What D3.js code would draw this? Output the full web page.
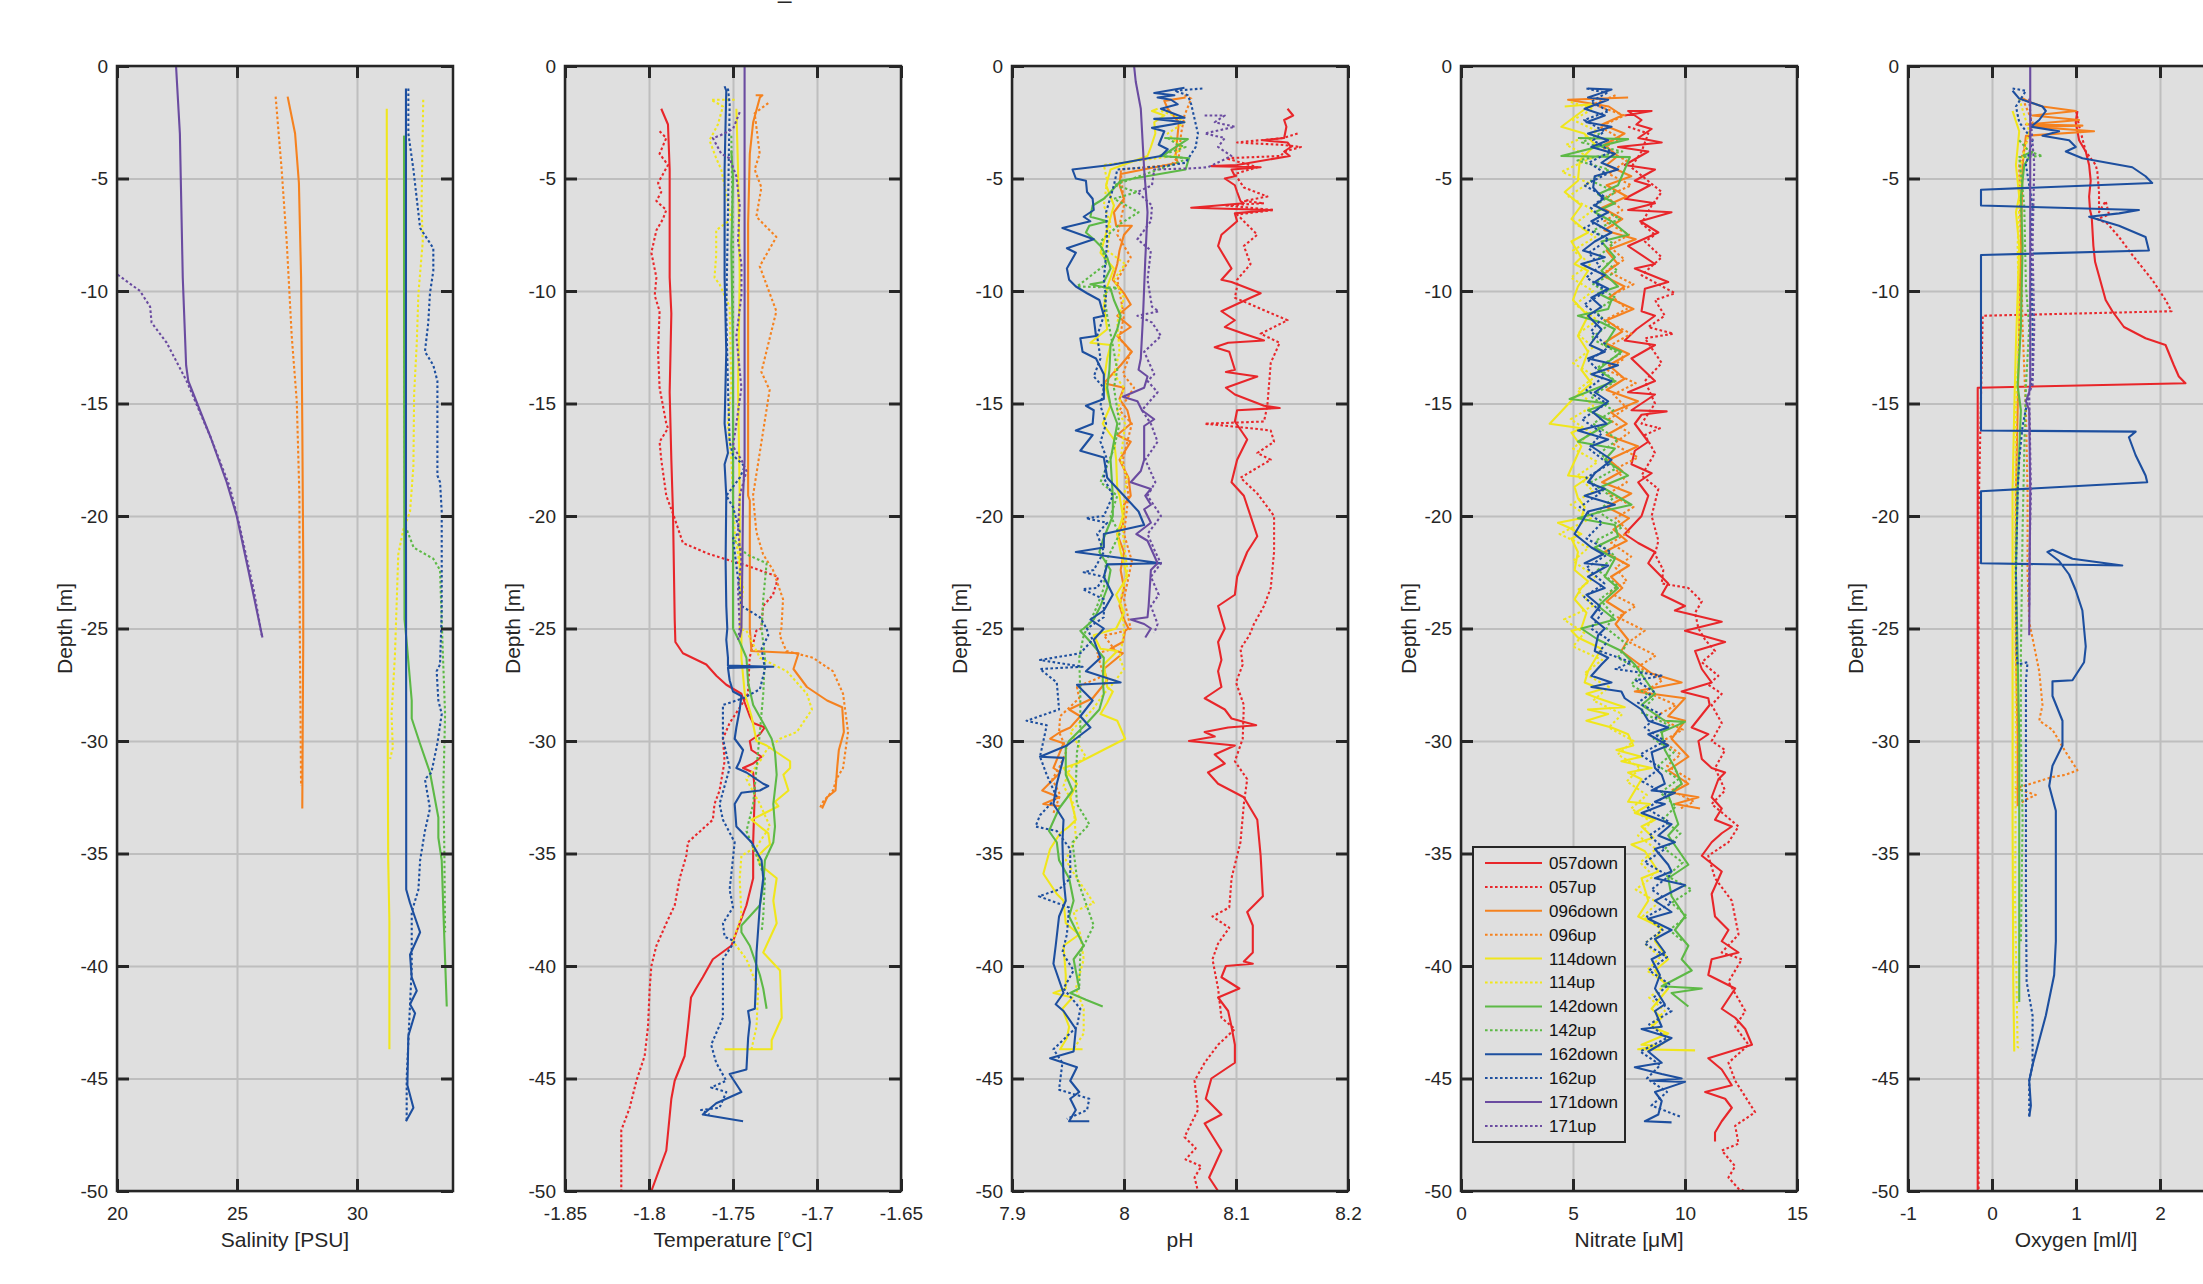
<!DOCTYPE html>
<html><head><meta charset="utf-8">
<script src="https://cdn.jsdelivr.net/npm/d3@7"></script>
<style>
body{margin:0;background:#fff;}
svg{display:block;font-family:"Liberation Sans",Arial,Helvetica,sans-serif;}
</style>
</head><body>
<svg id="chart" width="2203" height="1284"></svg>
<script>
// ---------------- series ----------------
const seriesNames = ["057down","057up","096down","096up","114down","114up","142down","142up","162down","162up","171down","171up"];
const seriesColors = ["#E8262A","#E8262A","#F5821F","#F5821F","#F0E61C","#F0E61C","#5DB946","#5DB946","#1D4F9F","#1D4F9F","#6A4BA0","#6A4BA0"];
const seriesDotted = [false,true,false,true,false,true,false,true,false,true,false,true];

// ---------------- axis ticks ----------------
const depthTicks = [0,-5,-10,-15,-20,-25,-30,-35,-40,-45,-50];
const salTicks = [20,25,30];
const tmpTicks = [-1.85,-1.8,-1.75,-1.7,-1.65];
const phTicks = [7.9,8,8.1,8.2];
const no3Ticks = [0,5,10,15];
const oxTicks = [-1,0,1,2,3];
const axisLabels = ["Salinity [PSU]","Temperature [°C]","pH","Nitrate [\u03bcM]","Oxygen [ml/l]"];

// ---------------- data: [depth m, value] ----------------
// Salinity
const sal096d = [[-1.36,27.11],[-3,27.42],[-5.2,27.58],[-9.4,27.67],[-15.9,27.72],[-22,27.76],[-25.6,27.76],[-29,27.74],[-33,27.72]];
const sal096u = [[-1.36,26.61],[-4.6,26.86],[-7.8,27.07],[-12,27.28],[-14.9,27.49],[-19.1,27.6],[-25.6,27.62],[-32,27.67]];
const sal114d = [[-1.9,31.24],[-10,31.25],[-20,31.27],[-30,31.28],[-35.3,31.3],[-38,31.35],[-43.7,31.35]];
const sal114u = [[-1.5,32.76],[-6.2,32.69],[-7.8,32.74],[-10.1,32.56],[-12.3,32.49],[-14.6,32.38],[-17.8,32.35],[-19.8,32.21],[-20.6,31.93],[-21.7,31.72],[-26.2,31.58],[-28.8,31.44],[-30.3,31.49],[-30.8,31.38]];
const sal142d = [[-3.1,31.96],[-10,31.96],[-20,31.97],[-24.6,31.98],[-25.6,32.07],[-28.2,32.28],[-29,32.28],[-30.1,32.62],[-31.4,33.04],[-33.4,33.39],[-34.3,33.39],[-35.3,33.53],[-37.6,33.6],[-41.8,33.74]];
const sal142u = [[-3.1,31.96],[-12,31.97],[-20.4,32.0],[-21.4,32.36],[-21.9,33.18],[-22.4,33.46],[-24.7,33.53],[-28.8,33.67],[-32,33.6],[-35,33.64],[-38.5,33.67]];
const sal162d = [[-1,32.04],[-10,32.04],[-20,32.04],[-30,32.05],[-36.6,32.05],[-37.2,32.21],[-38.5,32.63],[-39.5,32.21],[-40.5,32.28],[-41.1,32.49],[-41.7,32.21],[-42.1,32.42],[-43.1,32.14],[-45.3,32.1],[-46.3,32.35],[-46.9,32.04]];
const sal162u = [[-1,32.14],[-3,32.14],[-4.6,32.35],[-7.2,32.63],[-8.1,33.18],[-9.1,33.18],[-10.1,33.04],[-11.4,32.97],[-12.7,32.83],[-13.3,33.18],[-14,33.35],[-18.2,33.35],[-18.5,33.46],[-19.8,33.53],[-24.3,33.53],[-26.6,33.46],[-26.9,33.32],[-28.2,33.39],[-28.8,33.53],[-30.1,33.35],[-31.4,33.1],[-31.7,32.83],[-33,33.04],[-34,32.83],[-35.3,32.63],[-36.6,32.56],[-37.6,32.28],[-40.1,32.28],[-41.7,32.21],[-45,32.07],[-46.9,32.07]];
const sal171d = [[0,22.46],[-3,22.62],[-9.4,22.74],[-13.3,22.88],[-14,22.97],[-16.5,23.9],[-18.5,24.57],[-20,24.99],[-22.4,25.47],[-25.4,26.06]];
const sal171u = [[-9.1,19.9],[-9.3,20.06],[-10,20.96],[-10.7,21.38],[-11.4,21.44],[-12.3,22.07],[-14,22.9],[-16.5,23.9],[-18.7,24.7],[-20.4,25.1],[-23.3,25.7],[-25.3,26.03]];

// Temperature
const tmp057d = [[-1.9,-1.7927],[-2.6,-1.7887],[-4.6,-1.7877],[-9.4,-1.7877],[-11,-1.7867],[-14.5,-1.7877],[-17.5,-1.7867],[-19.9,-1.7857],[-24.6,-1.7847],[-25.6,-1.7843],[-26.1,-1.7798],[-26.6,-1.7659],[-27.1,-1.7599],[-27.5,-1.754],[-27.9,-1.745],[-28.9,-1.74],[-29.2,-1.738],[-29.4,-1.7311],[-29.7,-1.734],[-30,-1.74],[-30.4,-1.739],[-30.7,-1.733],[-31,-1.738],[-31.2,-1.744],[-31.4,-1.738],[-32.2,-1.737],[-34.5,-1.738],[-36.1,-1.738],[-37.3,-1.742],[-38.1,-1.746],[-39.1,-1.751],[-39.7,-1.762],[-40.5,-1.768],[-41,-1.772],[-41.4,-1.775],[-42.7,-1.7768],[-44,-1.7788],[-45.1,-1.7847],[-45.9,-1.7867],[-48.2,-1.7897],[-50,-1.7986]];
const tmp057u = [[-2.9,-1.7937],[-3.2,-1.7897],[-3.9,-1.7937],[-4.4,-1.7887],[-5.2,-1.7946],[-5.6,-1.7927],[-6,-1.7956],[-6.4,-1.7897],[-6.8,-1.7917],[-7.3,-1.7956],[-8.3,-1.7986],[-9.4,-1.7956],[-10.2,-1.7966],[-10.9,-1.7937],[-12.7,-1.7946],[-14.3,-1.7937],[-15.9,-1.7897],[-16.1,-1.7887],[-16.7,-1.7937],[-17.5,-1.7927],[-19.1,-1.7897],[-19.9,-1.7857],[-21.2,-1.7798],[-21.7,-1.7639],[-22.2,-1.742],[-22.7,-1.7232],[-23,-1.7242],[-23.5,-1.7262],[-24,-1.7321],[-25,-1.7331],[-25.1,-1.7361],[-26.3,-1.7401],[-27.9,-1.7411],[-28.4,-1.745],[-29.2,-1.752],[-29.9,-1.756],[-30.9,-1.755],[-32.2,-1.758],[-32.8,-1.761],[-33.5,-1.762],[-34.5,-1.7768],[-35.1,-1.7778],[-36.1,-1.7817],[-37.3,-1.7847],[-38.1,-1.7897],[-39.1,-1.7956],[-40,-1.7986],[-41,-1.7996],[-42.7,-1.8006],[-44,-1.8026],[-45.1,-1.8075],[-46.3,-1.8115],[-47.3,-1.8165],[-50,-1.8165]];
const tmp096d = [[-1.3,-1.7365],[-1.3,-1.7325],[-1.4,-1.734],[-2.5,-1.738],[-3.9,-1.74],[-7,-1.741],[-19.1,-1.741],[-19.3,-1.74],[-25,-1.74],[-26,-1.739],[-26.1,-1.711],[-26.8,-1.714],[-27.6,-1.706],[-28.2,-1.694],[-28.5,-1.685],[-29.6,-1.684],[-30.4,-1.687],[-31.2,-1.688],[-32.2,-1.689],[-32.5,-1.694],[-33,-1.697]];
const tmp096u = [[-1.65,-1.729],[-2.1,-1.7371],[-3.9,-1.7341],[-4.6,-1.7371],[-5.4,-1.7331],[-6.7,-1.7361],[-7.6,-1.7242],[-8.9,-1.7341],[-10.9,-1.7242],[-13.6,-1.7331],[-14.4,-1.7282],[-17.2,-1.7341],[-19.1,-1.7381],[-20.7,-1.7361],[-21.7,-1.7321],[-22.4,-1.7262],[-23.7,-1.7202],[-25,-1.7212],[-25.3,-1.7222],[-26,-1.7183],[-26.3,-1.7024],[-26.9,-1.6905],[-27.9,-1.6845],[-29.6,-1.6815],[-31.2,-1.6845],[-31.7,-1.6885],[-32.2,-1.6905],[-32.7,-1.6964],[-33,-1.6984]];
const tmp114d = [[-1.9,-1.748],[-4.6,-1.747],[-9.4,-1.746],[-14.3,-1.747],[-19.1,-1.746],[-22.4,-1.746],[-25,-1.745],[-26.3,-1.745],[-27.9,-1.743],[-28.9,-1.739],[-30,-1.736],[-30.2,-1.73],[-30.9,-1.716],[-31.2,-1.716],[-31.5,-1.72],[-32.2,-1.717],[-32.7,-1.725],[-32.9,-1.723],[-33.5,-1.739],[-34.1,-1.729],[-34.6,-1.728],[-34.8,-1.731],[-35.1,-1.735],[-35.5,-1.734],[-36.1,-1.724],[-37.1,-1.726],[-38.1,-1.724],[-39.4,-1.732],[-40.2,-1.722],[-42.3,-1.721],[-43.3,-1.727],[-43.7,-1.727],[-43.7,-1.755]];
const tmp114u = [[-1.5,-1.749],[-1.5,-1.763],[-1.8,-1.756],[-2.6,-1.759],[-3.3,-1.764],[-4.1,-1.76],[-4.6,-1.757],[-6.8,-1.751],[-7.3,-1.76],[-8.4,-1.76],[-9.4,-1.761],[-9.7,-1.758],[-10.7,-1.752],[-14.3,-1.751],[-15.9,-1.753],[-17.5,-1.751],[-20.7,-1.749],[-23.2,-1.744],[-25,-1.746],[-25.1,-1.742],[-26.3,-1.734],[-26.9,-1.718],[-27.9,-1.706],[-28.6,-1.703],[-29.6,-1.712],[-29.9,-1.722],[-30.4,-1.73],[-30.9,-1.734],[-31.7,-1.742],[-32.8,-1.734],[-33.8,-1.728],[-34.7,-1.736],[-35.1,-1.745],[-36.1,-1.746],[-37.8,-1.745],[-38.9,-1.75],[-39.7,-1.742],[-41,-1.735],[-42.7,-1.736],[-43.7,-1.739]];
const tmp142d = [[-3.75,-1.751],[-5,-1.75],[-8,-1.751],[-13,-1.75],[-19.1,-1.75],[-25,-1.75],[-25.6,-1.746],[-26.3,-1.742],[-27.4,-1.741],[-28.4,-1.738],[-29.2,-1.732],[-29.9,-1.727],[-30.5,-1.725],[-31.5,-1.724],[-32.8,-1.726],[-33.8,-1.725],[-34.5,-1.726],[-35.3,-1.731],[-36.4,-1.732],[-37.3,-1.734],[-38.2,-1.745],[-38.5,-1.745],[-39.1,-1.74],[-40.4,-1.734],[-41,-1.732],[-41.9,-1.73]];
const tmp142u = [[-3.1,-1.751],[-8,-1.75],[-14,-1.75],[-21,-1.75],[-21.7,-1.742],[-22.1,-1.73],[-23.7,-1.732],[-25,-1.733],[-26.3,-1.731],[-27.9,-1.732],[-29.6,-1.734],[-31.2,-1.736],[-32.8,-1.738],[-34,-1.742],[-35.1,-1.736],[-36.1,-1.731],[-37.8,-1.732],[-38.5,-1.733]];
const tmp162d = [[-0.9,-1.755],[-1.1,-1.754],[-4.6,-1.755],[-9.4,-1.755],[-12.7,-1.754],[-15.9,-1.755],[-17.2,-1.753],[-17.7,-1.755],[-19.1,-1.754],[-22,-1.7544],[-24,-1.754],[-25,-1.7534],[-25.5,-1.754],[-26.3,-1.753],[-26.65,-1.753],[-26.7,-1.726],[-26.75,-1.753],[-27.3,-1.752],[-27.8,-1.75],[-28,-1.745],[-28.6,-1.746],[-29.4,-1.748],[-29.9,-1.749],[-30.4,-1.744],[-30.9,-1.746],[-31.2,-1.748],[-31.4,-1.742],[-31.9,-1.732],[-32,-1.729],[-32.2,-1.734],[-32.3,-1.745],[-32.8,-1.749],[-33.8,-1.748],[-34.5,-1.739],[-35.3,-1.733],[-36.1,-1.732],[-37.3,-1.734],[-39.4,-1.736],[-41,-1.7365],[-41.9,-1.737],[-42,-1.741],[-42.5,-1.74],[-43.2,-1.741],[-44.6,-1.742],[-44.8,-1.752],[-45.6,-1.745],[-46.1,-1.76],[-46.6,-1.768],[-46.9,-1.744]];
const tmp162u = [[-1,-1.753],[-1.7,-1.752],[-6.5,-1.753],[-11,-1.754],[-14.3,-1.753],[-16.7,-1.752],[-17.3,-1.75],[-17.8,-1.743],[-18.3,-1.746],[-19.1,-1.754],[-19.6,-1.75],[-20.7,-1.746],[-21,-1.75],[-24,-1.745],[-24.5,-1.734],[-25,-1.73],[-25.3,-1.729],[-25.9,-1.733],[-26.8,-1.731],[-27.7,-1.734],[-28.1,-1.744],[-28.4,-1.756],[-29.9,-1.756],[-31.2,-1.752],[-32.8,-1.758],[-33.5,-1.756],[-34.5,-1.749],[-36.6,-1.752],[-37.4,-1.75],[-38.1,-1.756],[-38.7,-1.755],[-38.9,-1.749],[-39.7,-1.756],[-42.3,-1.756],[-43.5,-1.763],[-44.3,-1.76],[-45.1,-1.754],[-45.4,-1.763],[-45.6,-1.754],[-46.3,-1.758],[-46.4,-1.769],[-46.6,-1.764]];
const tmp171d = [[0,-1.7431],[-17.5,-1.7431],[-19.1,-1.744],[-22,-1.7444],[-25,-1.745],[-25.4,-1.746]];
const tmp171u = [[-2.05,-1.746],[-2.8,-1.75],[-3.1,-1.758],[-3.2,-1.762],[-3.9,-1.757],[-4.1,-1.752],[-4.9,-1.748],[-6.2,-1.746],[-7.8,-1.747],[-8.8,-1.745],[-10.2,-1.745],[-12,-1.748],[-14.3,-1.745],[-15.9,-1.748],[-16.9,-1.75],[-17.5,-1.745],[-18,-1.742],[-19.1,-1.746],[-20.7,-1.747],[-22,-1.745],[-23.2,-1.747],[-25,-1.746],[-25.5,-1.747]];

// pH
const ph057d = [[-1.9,8.146],[-2.2,8.151],[-2.4,8.143],[-2.7,8.145],[-3.2,8.143],[-3.3,8.124],[-3.4,8.146],[-3.6,8.149],[-3.8,8.143],[-4,8.148],[-4.4,8.101],[-4.45,8.078],[-4.5,8.122],[-4.6,8.096],[-4.9,8.099],[-5,8.09],[-5.3,8.099],[-5.6,8.101],[-6,8.104],[-6.1,8.107],[-6.3,8.06],[-6.4,8.131],[-6.55,8.099],[-6.9,8.101],[-7.5,8.087],[-8,8.084],[-9,8.096],[-9.5,8.087],[-9.6,8.096],[-10.1,8.122],[-10.3,8.113],[-10.9,8.087],[-11.3,8.099],[-11.6,8.09],[-11.9,8.107],[-12.2,8.125],[-12.3,8.093],[-12.5,8.081],[-12.7,8.094],[-13.5,8.099],[-13.6,8.091],[-13.8,8.119],[-14.3,8.091],[-14.6,8.099],[-15.1,8.125],[-15.2,8.139],[-15.3,8.101],[-15.8,8.099],[-16.6,8.11],[-17.5,8.101],[-18.5,8.096],[-19.1,8.107],[-20.9,8.119],[-21.6,8.11],[-22.7,8.101],[-23.5,8.099],[-24,8.084],[-25,8.09],[-25.6,8.084],[-26.4,8.087],[-26.9,8.084],[-27.6,8.087],[-28.1,8.072],[-28.6,8.09],[-29,8.096],[-29.3,8.118],[-29.4,8.093],[-29.6,8.072],[-29.8,8.081],[-30,8.058],[-30.2,8.099],[-30.6,8.081],[-31,8.09],[-31.4,8.075],[-31.9,8.084],[-32.5,8.107],[-33.5,8.119],[-35.1,8.122],[-36.9,8.124],[-37.6,8.11],[-38.2,8.115],[-39.4,8.115],[-39.8,8.107],[-39.9,8.115],[-40,8.091],[-40.5,8.087],[-41,8.103],[-41.4,8.084],[-42,8.093],[-42.7,8.096],[-43.5,8.099],[-44.3,8.099],[-45,8.078],[-45.9,8.073],[-46.6,8.087],[-47,8.072],[-48.2,8.087],[-49.4,8.076],[-50,8.084]];
const ph057u = [[-3,8.155],[-3.2,8.142],[-3.4,8.101],[-3.5,8.14],[-3.6,8.158],[-3.8,8.143],[-4,8.14],[-4.1,8.091],[-4.5,8.119],[-4.8,8.099],[-5.4,8.107],[-5.8,8.128],[-6,8.107],[-6.1,8.125],[-6.2,8.09],[-6.4,8.134],[-6.6,8.101],[-7.5,8.119],[-8,8.107],[-8.8,8.113],[-9.5,8.101],[-9.8,8.101],[-10.3,8.099],[-11.3,8.146],[-11.9,8.122],[-12.3,8.139],[-13.2,8.131],[-15.1,8.128],[-15.8,8.125],[-15.9,8.072],[-16.1,8.113],[-16.2,8.131],[-16.7,8.134],[-17.2,8.119],[-17.5,8.131],[-18.3,8.104],[-19,8.119],[-20,8.134],[-21.6,8.134],[-23.2,8.131],[-24,8.125],[-24.8,8.116],[-25.3,8.112],[-25.9,8.104],[-26.6,8.106],[-27.4,8.1],[-28.4,8.107],[-29.9,8.106],[-30.9,8.099],[-31.7,8.11],[-32.8,8.107],[-34.5,8.104],[-36.1,8.096],[-37.4,8.094],[-37.8,8.079],[-38.3,8.094],[-39,8.084],[-39.7,8.079],[-41,8.084],[-42.3,8.087],[-42.8,8.099],[-43.5,8.084],[-44.3,8.072],[-45.1,8.063],[-46.4,8.066],[-47.6,8.054],[-48.1,8.064],[-48.6,8.055],[-48.9,8.069],[-49.4,8.063],[-50,8.066]];
const ph096d = [[-1.4,8.055],[-1.55,8.036],[-1.9,8.039],[-2.5,8.049],[-3,8.048],[-4,8.046],[-4.3,8.048],[-4.8,7.997],[-5.3,7.996],[-5.9,8.0],[-6.5,7.991],[-7.1,7.993],[-7.1,8.007],[-7.5,8.0],[-8.2,7.996],[-8.8,7.994],[-9.5,7.99],[-10.1,8.0],[-10.6,8.006],[-11.1,7.994],[-11.6,8.006],[-12,7.994],[-12.7,8.007],[-13.3,7.997],[-14.1,7.982],[-14.3,8.0],[-14.8,7.996],[-15.3,8.003],[-15.9,8.006],[-16.4,7.994],[-16.7,8.006],[-17.5,7.996],[-18.3,8.004],[-19.1,8.006],[-19.5,8.0],[-20.4,7.999],[-20.8,7.994],[-21.6,8.0],[-22.4,7.997],[-23.2,8.0],[-24,7.996],[-24.6,8.0],[-25,8.004],[-25.1,8.001],[-25.6,7.999],[-25.9,7.988],[-26.1,7.999],[-26.8,7.982],[-27.3,7.985],[-28.1,7.972],[-28.6,7.951],[-28.9,7.961],[-29.4,7.952],[-29.6,7.943],[-29.9,7.934],[-30.1,7.946],[-31.2,7.937],[-31.4,7.943],[-32.2,7.927],[-32.5,7.942],[-32.8,7.928],[-32.9,7.943]];
const ph096u = [[-1.3,8.054],[-1.45,8.06],[-2.2,8.054],[-3,8.051],[-4,8.049],[-4.4,8.042],[-4.6,7.997],[-6.2,8.0],[-7.5,7.994],[-8.5,8.006],[-9.5,7.994],[-11.1,8.0],[-12.1,7.996],[-12.7,8.006],[-13.7,7.999],[-14.3,8.009],[-15.3,7.996],[-15.9,8.007],[-17.5,7.999],[-19.1,8.004],[-20.8,8.0],[-22,8.007],[-23.7,8.0],[-25,8.006],[-25.2,7.994],[-25.3,7.982],[-25.9,7.991],[-26.1,7.976],[-27.1,7.982],[-27.6,7.958],[-28.1,7.96],[-28.9,7.943],[-29.6,7.942],[-30.4,7.949],[-31.2,7.942],[-31.7,7.936],[-32.4,7.943],[-33.2,7.937]];
const ph114d = [[-1.9,8.03],[-2,8.025],[-2.2,8.036],[-2.5,8.027],[-3,8.028],[-3.6,8.024],[-4,8.021],[-4.6,7.988],[-5.3,7.984],[-6.2,7.991],[-6.9,7.987],[-7.8,7.982],[-8.3,7.979],[-9,7.991],[-9.8,7.985],[-10.7,7.982],[-11.7,7.985],[-12.3,7.97],[-12.4,7.988],[-13,7.985],[-14,7.982],[-15.1,7.988],[-15.9,7.981],[-16.6,7.991],[-17.5,7.993],[-18.8,7.994],[-19.1,7.996],[-20,7.999],[-20.8,7.994],[-21.6,7.997],[-22.7,8.003],[-23.5,7.993],[-24.3,8.0],[-25,7.993],[-25.3,7.973],[-25.9,7.979],[-26,7.994],[-26.6,7.982],[-27.6,7.985],[-27.8,7.99],[-28.3,7.985],[-28.8,7.979],[-29.1,7.994],[-29.9,8.001],[-31,7.958],[-31.2,7.946],[-31.9,7.958],[-32.5,7.952],[-33.5,7.957],[-33.8,7.951],[-34.1,7.943],[-34.8,7.934],[-35.9,7.928],[-36.8,7.94],[-37.1,7.946],[-38.1,7.948],[-38.6,7.96],[-39.1,7.946],[-40.4,7.948],[-41,7.948],[-41.2,7.937],[-41.4,7.954],[-41.9,7.945],[-42.7,7.951],[-43.2,7.949],[-43.7,7.943],[-43.7,7.963]];
const ph114u = [[-2,8.033],[-2.2,8.045],[-2.5,8.054],[-3,8.039],[-3.6,8.051],[-4,8.045],[-4.4,7.982],[-5.1,7.985],[-6.2,7.982],[-7,7.988],[-8.2,7.985],[-8.8,8.001],[-9.5,7.991],[-10.3,8.0],[-11.4,7.994],[-12.7,7.996],[-13.7,7.991],[-14.3,8.0],[-15.3,7.994],[-15.9,8.001],[-17.5,7.997],[-18.3,8.003],[-19.1,8.0],[-20.8,7.999],[-22.4,8.003],[-23.7,7.997],[-25,8.0],[-25.5,7.999],[-26.3,7.996],[-26.8,8.0],[-27.4,7.991],[-27.9,7.982],[-28.6,7.972],[-29.6,7.952],[-30.7,7.966],[-31.2,7.952],[-32,7.946],[-32.8,7.955],[-34.3,7.957],[-35.3,7.948],[-36.1,7.958],[-37.2,7.973],[-37.6,7.955],[-38.6,7.961],[-39.7,7.964],[-41,7.957],[-41.9,7.964],[-43,7.964],[-43.7,7.955]];
const ph142d = [[-3.2,8.036],[-3.25,8.057],[-4,8.034],[-4.1,8.058],[-4.6,8.055],[-5.1,7.997],[-5.6,7.988],[-5.9,7.982],[-6.2,7.972],[-6.7,7.97],[-6.9,7.985],[-7.1,7.969],[-7.4,7.966],[-7.7,7.973],[-8,7.979],[-8.5,7.985],[-9,7.988],[-9.6,7.982],[-9.7,7.97],[-9.9,7.988],[-10.4,7.991],[-11.1,7.997],[-11.7,7.994],[-12.4,7.988],[-13.5,7.987],[-14.3,7.985],[-15.1,7.988],[-15.9,7.994],[-16.7,7.991],[-17.5,7.988],[-19.1,7.99],[-20,7.99],[-20.6,7.985],[-21.1,7.981],[-21.6,7.978],[-22.4,7.988],[-23.2,7.985],[-24,7.979],[-24.6,7.973],[-25,7.964],[-25.1,7.961],[-25.6,7.97],[-26.3,7.982],[-27.3,7.981],[-27.9,7.982],[-28.6,7.978],[-29.2,7.967],[-30,7.951],[-30.3,7.948],[-31.5,7.948],[-32.2,7.954],[-33,7.942],[-34,7.933],[-34.5,7.94],[-35.3,7.942],[-36.1,7.951],[-37.1,7.955],[-37.8,7.951],[-39.1,7.964],[-39.7,7.955],[-41,7.96],[-41.2,7.952],[-41.5,7.966],[-41.8,7.981]];
const ph142u = [[-3.2,8.039],[-3.5,8.048],[-3.6,8.055],[-4,8.031],[-4.1,8.058],[-4.4,8.042],[-5.3,7.991],[-5.6,8.012],[-5.9,7.991],[-6.5,8.013],[-7,7.997],[-7.8,7.979],[-8.8,7.984],[-9.8,7.958],[-9.85,7.994],[-10.1,7.982],[-11.1,7.985],[-11.9,7.988],[-12.7,7.991],[-13.5,7.994],[-14.3,7.991],[-15.9,7.996],[-17,7.991],[-18.5,7.979],[-19.1,7.994],[-20,7.988],[-20.8,7.996],[-22,7.984],[-23.2,7.982],[-24,7.976],[-25,7.967],[-25.3,7.964],[-26.3,7.96],[-27.9,7.961],[-29.6,7.961],[-30.5,7.958],[-32,7.957],[-32.8,7.958],[-33.7,7.969],[-34.5,7.954],[-36.1,7.958],[-38.2,7.973],[-39.4,7.961],[-41,7.96]];
const ph162d = [[-0.97,8.054],[-1.2,8.027],[-1.3,8.045],[-1.4,8.03],[-1.5,8.042],[-1.7,8.048],[-1.9,8.033],[-2.3,8.054],[-2.35,8.027],[-2.5,8.054],[-2.75,8.025],[-2.9,8.036],[-3.5,8.031],[-3.7,8.039],[-4,8.033],[-4.4,7.988],[-4.6,7.954],[-5,7.957],[-5.1,7.966],[-5.6,7.967],[-5.9,7.972],[-6.4,7.973],[-6.7,7.964],[-6.9,7.97],[-7.2,7.945],[-7.7,7.973],[-8.1,7.949],[-8.3,7.957],[-9,7.949],[-9.5,7.951],[-9.8,7.957],[-10.1,7.967],[-10.4,7.978],[-11.1,7.982],[-11.2,7.973],[-12,7.975],[-12.1,7.961],[-12.7,7.963],[-13,7.975],[-13.7,7.982],[-14.8,7.982],[-15.1,7.966],[-15.3,7.973],[-15.9,7.972],[-16.2,7.957],[-16.4,7.972],[-17.1,7.961],[-17.4,7.982],[-18.3,7.985],[-19.1,8.0],[-19.8,8.013],[-20.4,8.018],[-20.8,7.982],[-21.4,7.982],[-21.6,7.957],[-22.1,8.033],[-22.15,7.985],[-22.7,7.982],[-23.5,7.99],[-24.2,7.982],[-24.6,7.97],[-25,7.982],[-25.5,7.973],[-26.3,7.979],[-26.9,7.966],[-27.4,7.997],[-27.5,7.958],[-28.2,7.972],[-28.9,7.961],[-29.4,7.97],[-30.2,7.949],[-30.7,7.925],[-30.75,7.946],[-31.9,7.94],[-32.8,7.937],[-33.5,7.946],[-34.5,7.945],[-36.1,7.946],[-37.1,7.948],[-37.8,7.942],[-39.1,7.939],[-39.9,7.937],[-41.2,7.946],[-41.7,7.939],[-42,7.946],[-42.8,7.957],[-43.8,7.955],[-44.1,7.934],[-44.5,7.958],[-45.1,7.952],[-45.6,7.96],[-45.9,7.952],[-46.4,7.957],[-46.9,7.951],[-46.9,7.969]];
const ph162u = [[-1,8.07],[-1.1,8.045],[-1.3,8.057],[-1.7,8.06],[-3,8.066],[-3.6,8.064],[-4.3,8.055],[-4.45,8.036],[-4.6,7.994],[-5.3,7.991],[-6.5,7.984],[-7.8,7.985],[-9.5,7.982],[-10.3,7.984],[-11.1,7.982],[-12,7.976],[-13,7.979],[-13.8,7.973],[-14.3,7.982],[-15.1,7.979],[-15.9,7.984],[-16.7,7.979],[-17.5,7.985],[-18.3,7.982],[-19.1,7.99],[-20,7.982],[-20.1,7.966],[-20.3,7.985],[-20.8,7.976],[-21.6,7.982],[-22.4,7.973],[-22.5,7.964],[-22.7,7.982],[-23.2,7.976],[-23.25,7.963],[-23.7,7.982],[-24.5,7.982],[-25,7.967],[-25.5,7.972],[-26.1,7.961],[-26.4,7.925],[-26.7,7.963],[-26.8,7.925],[-27.4,7.94],[-28.6,7.942],[-29.1,7.913],[-29.3,7.931],[-30.7,7.925],[-31.5,7.931],[-32.5,7.94],[-33.3,7.925],[-33.8,7.921],[-34,7.94],[-34.8,7.952],[-36.1,7.952],[-36.6,7.942],[-36.9,7.924],[-37.4,7.951],[-38.6,7.949],[-39.4,7.945],[-40.2,7.955],[-41,7.946],[-41.9,7.961],[-42.7,7.958],[-43.7,7.937],[-44.3,7.945],[-45.5,7.942],[-45.9,7.969],[-46.4,7.967],[-46.8,7.949]];
const ph171d = [[0,8.009],[-0.7,8.0105],[-1.9,8.015],[-4.6,8.018],[-6.5,8.021],[-8.6,8.019],[-11.1,8.017],[-13,8.015],[-13.5,8.013],[-13.8,8.021],[-14.3,8.018],[-14.7,7.999],[-14.9,8.012],[-15.3,8.016],[-15.7,8.027],[-16,8.018],[-17.5,8.018],[-18,8.015],[-18.5,8.006],[-18.8,8.024],[-19.1,8.019],[-19.5,8.024],[-19.7,8.018],[-20.3,8.024],[-20.8,8.011],[-21.1,8.021],[-22.1,8.03],[-22.4,8.024],[-24,8.022],[-24.5,8.021],[-24.6,8.006],[-24.8,8.018],[-25,8.024],[-25.4,8.019]];
const ph171u = [[-2.2,8.072],[-2.2,8.09],[-2.5,8.081],[-2.7,8.099],[-3,8.072],[-3.2,8.09],[-3.6,8.084],[-4,8.096],[-4.5,8.075],[-4.55,8.06],[-4.6,8.027],[-5.3,8.025],[-5.6,8.012],[-6.2,8.025],[-6.9,8.024],[-7.7,8.012],[-8.2,8.024],[-9.5,8.021],[-10.7,8.025],[-10.9,8.031],[-11.1,8.012],[-11.4,8.025],[-12,8.033],[-12.7,8.018],[-13.7,8.027],[-14,8.021],[-14.5,8.03],[-15.3,8.016],[-15.9,8.024],[-16.7,8.03],[-17.5,8.019],[-18.5,8.028],[-19.1,8.021],[-20,8.033],[-20.8,8.021],[-21.6,8.028],[-22.1,8.033],[-22.7,8.024],[-23.5,8.031],[-24,8.024],[-24.8,8.03],[-25.2,8.027]];

// Nitrate
const no3057d = [[-2.2,7.31],[-2,8.51],[-2,7.46],[-2.4,8.06],[-2.6,7.83],[-2.8,8.51],[-3.2,7.91],[-3.4,8.96],[-3.6,7.01],[-3.8,8.36],[-4.4,7.31],[-4.6,8.66],[-5.1,7.76],[-5.3,8.44],[-5.9,7.31],[-6.1,8.66],[-6.4,7.46],[-6.5,9.4],[-6.9,8.0],[-7.4,8.81],[-8,7.46],[-8.8,8.66],[-9,7.76],[-9.6,9.25],[-9.9,8.21],[-10.9,8.06],[-11.1,8.66],[-11.7,7.83],[-12.2,7.31],[-12.4,8.66],[-13,7.61],[-14,8.66],[-14.5,7.46],[-14.6,8.66],[-15.3,7.61],[-15.35,9.18],[-15.5,8.06],[-15.9,7.76],[-16.7,8.36],[-17.1,7.76],[-17.7,7.61],[-18.1,8.51],[-18.5,7.91],[-19.1,8.36],[-20,8.06],[-20.8,7.31],[-21.2,7.91],[-21.6,8.66],[-22.1,8.36],[-23,9.25],[-23.5,8.96],[-24,10.0],[-24.2,9.55],[-24.7,11.64],[-25.1,10.0],[-25.6,11.79],[-26,10.45],[-26.8,10.75],[-27.4,11.19],[-27.8,9.85],[-28.1,11.04],[-28.4,11.1],[-29.4,10.3],[-29.7,11.04],[-30,10.6],[-30.8,10.75],[-31.2,11.19],[-31.4,11.79],[-31.7,11.49],[-32.5,11.19],[-33,11.64],[-33.5,11.34],[-33.8,12.09],[-34.1,11.64],[-34.5,11.19],[-35.1,10.75],[-35.8,11.64],[-36.8,11.19],[-37.8,11.34],[-38.4,11.94],[-38.9,11.64],[-39.4,12.39],[-39.7,11.19],[-40.4,11.04],[-40.7,11.64],[-41,12.24],[-41.9,11.64],[-42.3,12.24],[-42.8,12.69],[-43.5,12.99],[-44.1,11.04],[-44.6,11.64],[-45.3,12.09],[-45.6,10.9],[-45.9,11.79],[-46.3,12.09],[-46.9,11.64],[-47.4,11.34],[-47.8,11.34]];
const no3057u = [[-2.7,7.46],[-3,8.36],[-3.8,8.06],[-4.5,7.6],[-5.6,8.96],[-6.2,8.51],[-7,8.06],[-7.5,8.66],[-7.8,8.21],[-8.5,8.96],[-9.3,8.06],[-10.1,9.55],[-10.4,8.66],[-11.1,9.1],[-11.6,8.36],[-11.9,9.48],[-12.1,8.21],[-13.2,8.96],[-14,8.21],[-15,8.66],[-15.9,8.06],[-16.1,8.88],[-16.4,8.21],[-17.2,8.66],[-18.2,8.06],[-18.8,8.81],[-20,8.51],[-21.1,8.81],[-21.7,8.66],[-22.4,9.03],[-23,8.96],[-23.2,10.15],[-23.8,10.75],[-24.3,10.45],[-25,10.6],[-25.5,10.9],[-26,11.34],[-26.5,10.75],[-27.1,11.49],[-27.5,11.04],[-27.9,11.64],[-28.4,11.19],[-29.2,11.64],[-30,11.19],[-30.4,11.79],[-31.2,11.34],[-32.2,11.79],[-32.8,11.19],[-33.8,12.39],[-34.5,11.94],[-35.1,11.04],[-36.1,11.34],[-37.1,12.09],[-38.6,12.39],[-39.4,11.64],[-39.7,12.54],[-40.7,11.94],[-42,12.69],[-42.7,12.24],[-43.5,12.84],[-44.3,11.94],[-45.1,12.24],[-46.5,13.13],[-47.1,12.24],[-47.9,12.39],[-48.2,11.64],[-48.9,12.24],[-49.4,11.94],[-49.9,12.39],[-50,12.69]];
const no3096d = [[-1.4,7.46],[-1.5,4.78],[-1.8,6.6],[-2.2,7.2],[-2.6,6.3],[-3,7.3],[-3.5,6.4],[-4,7.0],[-4.4,6.5],[-4.9,7.6],[-5.3,6.5],[-5.8,7.4],[-6.3,6.3],[-6.8,7.2],[-7.3,6.4],[-7.7,7.8],[-8.2,6.5],[-8.8,7.0],[-9.3,6.3],[-9.8,7.3],[-10.3,6.6],[-10.8,7.7],[-11.3,6.5],[-11.8,7.2],[-12.3,6.4],[-12.8,7.5],[-13.3,6.6],[-13.9,7.3],[-14.4,6.5],[-14.9,7.9],[-15.4,6.7],[-15.9,7.4],[-16.4,6.5],[-16.9,7.9],[-17.5,6.6],[-18,7.2],[-18.5,6.3],[-19,7.6],[-19.6,6.5],[-20.1,7.5],[-20.6,6.8],[-21.1,7.4],[-21.6,6.4],[-22.2,7.5],[-22.7,6.7],[-23.2,7.2],[-23.8,6.5],[-24.3,7.3],[-24.8,6.9],[-25.5,7.46],[-26,7.16],[-27,8.51],[-27.4,9.85],[-27.8,7.76],[-28.1,10.0],[-28.9,9.25],[-29.1,10.0],[-29.9,9.4],[-30.7,10.15],[-31.3,9.25],[-31.9,10.15],[-32.3,9.4],[-32.5,10.6],[-32.8,9.55],[-33,10.67]];
const no3096u = [[-1.3,6.9],[-1.7,5.9],[-2.2,7.3],[-2.7,6.2],[-3.2,7.1],[-3.7,6.3],[-4.2,7.4],[-4.8,6.6],[-5.3,7.6],[-5.8,6.5],[-6.4,7.2],[-6.9,6.4],[-7.5,7.5],[-8,6.6],[-8.6,7.3],[-9.1,6.5],[-9.7,7.7],[-10.2,6.7],[-10.8,7.4],[-11.3,6.4],[-11.9,7.6],[-12.4,6.7],[-13,7.3],[-13.5,6.5],[-14.1,7.8],[-14.6,6.8],[-15.2,7.4],[-15.7,6.6],[-16.3,7.5],[-16.8,6.8],[-17.4,7.9],[-17.9,6.9],[-18.5,7.4],[-19,6.6],[-19.6,7.7],[-20.1,6.9],[-20.7,7.5],[-21.2,6.7],[-21.8,7.6],[-22.3,6.9],[-22.9,7.4],[-23.4,6.6],[-24,7.8],[-24.5,7.0],[-25.1,8.2],[-25.6,7.5],[-26.2,8.7],[-26.7,7.9],[-27.3,9.0],[-27.8,8.2],[-28.4,9.6],[-28.9,8.7],[-29.5,9.9],[-30,9.0],[-30.6,9.8],[-31.1,9.2],[-31.7,10.2],[-32.2,9.4],[-32.7,10.4],[-33,9.8]];
const no3114d = [[-1.8,4.63],[-1.7,5.82],[-2.7,4.48],[-3,5.5],[-3.5,6.0],[-4.2,5.3],[-5.1,5.22],[-5.6,4.63],[-6.2,5.37],[-6.8,4.93],[-7.4,5.67],[-7.8,4.93],[-8.5,5.37],[-8.8,5.07],[-9.1,5.67],[-9.8,5.22],[-10.4,5.0],[-11.1,5.67],[-12,5.22],[-12.7,5.67],[-13.5,5.37],[-14.1,5.82],[-14.8,5.0],[-15.9,3.96],[-16.1,5.37],[-16.3,4.93],[-16.9,5.37],[-18.2,4.78],[-18.3,5.67],[-18.7,5.07],[-19.2,5.22],[-19.6,5.52],[-20.1,5.37],[-20.3,4.33],[-20.5,4.78],[-20.8,5.37],[-21,4.93],[-21.6,5.22],[-22.4,5.07],[-22.9,5.67],[-23.2,5.37],[-23.7,5.07],[-24.3,5.6],[-25,5.37],[-25.1,4.93],[-25.4,5.22],[-25.9,6.27],[-26.4,5.97],[-26.9,5.67],[-27.4,5.52],[-27.7,6.27],[-27.9,5.6],[-28.1,6.12],[-28.5,7.31],[-28.6,5.67],[-28.8,6.57],[-29.1,5.6],[-29.4,6.72],[-29.7,7.46],[-30.2,7.69],[-30.4,6.94],[-30.7,8.06],[-30.9,7.16],[-31.2,8.51],[-31.4,7.46],[-31.7,8.06],[-32.2,7.76],[-32.7,7.46],[-32.8,8.44],[-33.2,7.76],[-33.5,8.66],[-33.8,8.06],[-34.3,8.59],[-34.6,7.61],[-34.9,8.21],[-35.8,8.81],[-36.1,8.06],[-37.1,8.36],[-37.8,7.91],[-38.3,8.96],[-38.9,8.66],[-39.7,9.25],[-40.2,8.66],[-41,9.25],[-41.9,8.51],[-42.3,8.96],[-42.7,8.51],[-43,9.25],[-43.5,8.06],[-43.55,8.81],[-43.7,7.91],[-43.75,10.45]];
const no3114u = [[-1.6,4.9],[-1.9,5.9],[-2.4,5.0],[-2.9,6.1],[-3.5,4.7],[-4.1,5.8],[-4.7,4.5],[-5.2,5.7],[-5.8,4.8],[-6.4,5.9],[-7,5.1],[-7.6,6.0],[-8.2,5.0],[-8.8,5.8],[-9.4,4.9],[-10,5.9],[-10.6,5.1],[-11.3,6.1],[-11.9,5.2],[-12.5,5.9],[-13.2,5.0],[-13.8,6.0],[-14.4,5.2],[-15.1,5.9],[-15.7,4.9],[-16.3,5.8],[-17,5.0],[-17.6,6.1],[-18.2,5.2],[-18.9,5.9],[-19.5,4.9],[-20.1,5.8],[-20.8,4.4],[-21.4,5.7],[-22,5.0],[-22.7,6.0],[-23.3,5.2],[-24,5.9],[-24.6,4.6],[-25.2,5.5],[-25.8,5.0],[-26.4,6.3],[-27,5.5],[-27.6,6.6],[-28.2,5.9],[-28.8,7.2],[-29.4,6.6],[-30,7.7],[-30.6,7.0],[-31.2,8.0],[-31.8,7.4],[-32.4,8.3],[-33,7.6],[-33.6,8.5],[-34.2,7.9],[-34.8,8.7],[-35.4,8.0],[-36,8.6],[-36.6,7.8],[-37.2,8.8],[-37.8,8.1],[-38.4,9.0],[-39,8.2],[-39.6,8.9],[-40.2,8.3],[-40.8,9.2],[-41.4,8.4],[-42,9.1],[-42.6,8.5],[-43.2,9.3],[-43.7,8.7]];
const no3142d = [[-3.2,5.22],[-3.25,7.46],[-4,4.48],[-4.05,7.54],[-5.3,7.01],[-5.7,6.12],[-6.1,6.87],[-6.5,5.97],[-6.9,6.72],[-7.5,7.46],[-7.8,6.27],[-8.5,6.87],[-9.1,6.27],[-9.8,7.01],[-10.1,6.12],[-10.4,6.72],[-10.8,6.57],[-11.1,5.22],[-11.4,6.27],[-11.7,6.87],[-12.4,6.42],[-12.7,7.16],[-13.5,6.12],[-14,6.87],[-14.8,4.85],[-15,6.57],[-15.3,5.67],[-15.8,6.72],[-16.7,5.22],[-17,6.87],[-17.5,6.42],[-18.2,7.46],[-18.7,6.27],[-19.5,7.61],[-19.8,6.27],[-20.1,5.22],[-20.4,6.87],[-20.9,7.01],[-21.4,5.97],[-21.9,6.87],[-22.7,6.42],[-23.2,7.01],[-24,6.12],[-24.6,6.87],[-25,5.37],[-25.5,6.12],[-26,7.16],[-26.6,7.76],[-27.9,8.66],[-28.4,8.06],[-29.1,9.1],[-29.15,10.0],[-29.6,8.96],[-30.4,9.1],[-31.2,9.55],[-31.9,9.85],[-32.4,9.25],[-32.8,9.4],[-33.7,9.7],[-34.2,9.25],[-35.5,10.15],[-36.1,9.25],[-36.9,9.4],[-37.8,10.0],[-38.4,9.55],[-39.1,10.15],[-39.7,9.85],[-40.2,10.3],[-40.9,8.96],[-41,10.75],[-41.2,9.4],[-41.8,10.15]];
const no3142u = [[-3,6.2],[-3.4,5.4],[-3.8,7.2],[-4.2,5.2],[-4.6,6.6],[-5.1,5.8],[-5.6,6.9],[-6.2,6.0],[-6.8,7.1],[-7.3,5.9],[-7.9,6.8],[-8.5,6.1],[-9.1,7.0],[-9.7,5.9],[-10.3,6.9],[-10.9,6.0],[-11.5,6.6],[-12.1,5.8],[-12.8,7.1],[-13.4,6.1],[-14,6.9],[-14.7,5.8],[-15.3,6.8],[-15.9,5.9],[-16.6,7.0],[-17.2,6.2],[-17.9,6.9],[-18.5,5.8],[-19.2,6.8],[-19.8,6.1],[-20.5,7.2],[-21.1,6.0],[-21.8,6.9],[-22.4,6.1],[-23.1,7.0],[-23.7,6.2],[-24.4,6.8],[-25,6.5],[-25.7,7.4],[-26.3,7.0],[-26.9,8.1],[-27.5,7.6],[-28.1,8.6],[-28.7,8.0],[-29.3,9.3],[-29.9,8.6],[-30.5,9.5],[-31.1,8.8],[-31.7,9.7],[-32.3,8.9],[-32.9,9.6],[-33.5,9.0],[-34.1,9.8],[-34.8,9.1],[-35.4,9.9],[-36,9.2],[-36.6,10.3],[-37.2,9.4],[-37.8,10.1],[-38.4,9.3],[-38.9,9.9]];
const no3162d = [[-1,5.67],[-1.05,6.72],[-1.4,5.67],[-1.5,6.57],[-1.9,5.52],[-2.2,6.42],[-2.5,5.6],[-2.7,6.72],[-3,5.67],[-3.3,6.57],[-3.6,5.82],[-3.9,6.87],[-4.3,6.27],[-4.6,7.01],[-4.9,5.97],[-5.4,5.9],[-5.9,6.35],[-6.2,5.97],[-6.5,6.57],[-6.9,5.82],[-7.4,6.72],[-7.8,5.97],[-8.2,5.45],[-8.5,6.42],[-8.8,5.37],[-9.3,6.42],[-9.6,5.97],[-9.9,6.57],[-10.3,5.82],[-10.7,6.27],[-11.1,5.67],[-11.7,6.27],[-12.4,5.75],[-12.7,6.42],[-13,5.67],[-13.3,7.01],[-13.7,5.82],[-14,6.72],[-14.5,5.97],[-14.9,6.57],[-15.4,5.9],[-15.9,6.5],[-16.2,5.22],[-16.6,6.57],[-16.9,5.82],[-17.5,6.72],[-18.1,5.97],[-18.5,5.67],[-18.8,6.42],[-19.1,5.52],[-19.5,6.87],[-19.8,5.67],[-20.8,5.07],[-21.4,5.82],[-21.7,6.35],[-22.1,5.52],[-22.2,6.57],[-22.7,5.67],[-23.2,6.42],[-23.5,5.6],[-24,6.2],[-24.5,5.82],[-25,6.42],[-25.3,6.12],[-26,5.97],[-26.3,6.57],[-26.6,6.27],[-27.1,5.82],[-27.4,6.72],[-27.6,5.82],[-27.8,7.16],[-28.1,7.31],[-28.6,8.06],[-29.1,8.36],[-29.4,9.25],[-29.7,8.36],[-30.2,9.25],[-30.5,8.51],[-31.2,8.66],[-31.5,8.96],[-31.9,9.1],[-32.2,8.51],[-32.3,9.55],[-32.7,8.66],[-32.8,9.1],[-33.2,8.06],[-33.7,9.4],[-34.2,8.81],[-34.5,9.55],[-34.8,8.66],[-35.5,9.25],[-35.8,9.4],[-36.1,8.66],[-36.4,10.0],[-37.1,8.66],[-37.6,9.4],[-37.9,8.36],[-38.4,9.4],[-38.8,8.66],[-39.4,9.1],[-39.7,8.51],[-40.4,8.88],[-41,8.66],[-41.7,9.1],[-42,8.66],[-42.7,8.96],[-42.8,8.06],[-43.2,9.4],[-43.8,8.36],[-44.3,8.96],[-44.5,7.76],[-44.8,8.96],[-45,9.85],[-45.1,8.51],[-45.15,10.0],[-45.6,8.66],[-46,8.96],[-46.6,8.81],[-46.9,8.21],[-46.95,9.4]];
const no3162u = [[-1,5.6],[-1.2,6.5],[-1.6,5.8],[-2,6.6],[-2.4,5.5],[-2.9,6.4],[-3.3,5.9],[-3.8,6.7],[-4.3,5.7],[-4.8,6.5],[-5.3,5.5],[-5.8,6.4],[-6.3,5.8],[-6.8,6.3],[-7.2,5.5],[-7.7,6.6],[-8.3,5.7],[-8.9,6.2],[-9.4,5.6],[-10,6.5],[-10.6,5.5],[-11.2,6.3],[-11.8,5.8],[-12.5,6.6],[-13.1,5.7],[-13.8,6.4],[-14.4,5.6],[-15,6.5],[-15.7,5.4],[-16.3,6.3],[-17,5.7],[-17.7,6.6],[-18.3,5.6],[-19,6.2],[-19.6,5.3],[-20.3,6.3],[-21,5.6],[-21.6,6.7],[-22.3,5.6],[-23,6.4],[-23.6,5.5],[-24.3,6.3],[-25,5.8],[-25.5,6.6],[-26,6.2],[-26.5,7.6],[-26.8,6.9],[-27.1,9.0],[-27.3,7.8],[-27.8,8.6],[-28.3,7.9],[-28.8,8.9],[-29.4,8.2],[-30,9.1],[-30.6,8.0],[-31.2,8.9],[-31.8,8.1],[-32.4,9.2],[-33,8.3],[-33.6,9.3],[-34.2,8.4],[-34.8,9.1],[-35.4,8.2],[-36,9.3],[-36.6,8.5],[-37.2,9.4],[-37.8,8.3],[-38.4,9.0],[-39,8.2],[-39.6,9.2],[-40.2,8.4],[-40.8,9.3],[-41.4,8.6],[-42,9.4],[-42.6,8.4],[-43.2,9.2],[-43.8,8.0],[-44.4,8.9],[-45,8.3],[-45.6,9.2],[-46.2,8.5],[-46.7,9.8]];

// Oxygen
const ox057d = [[-2,1.017],[-2.5,0.997],[-3.3,1.037],[-3.8,1.116],[-4.4,1.156],[-5.1,1.175],[-5.8,1.156],[-6.4,1.167],[-6.7,1.187],[-8,1.207],[-8.7,1.227],[-9.6,1.294],[-10.4,1.353],[-10.9,1.433],[-11.6,1.571],[-12.1,1.828],[-12.4,2.066],[-13.3,2.165],[-13.8,2.224],[-14.1,2.303],[-14.3,-0.17],[-50,-0.17]];
const ox057u = [[-2,1.0],[-2.7,1.04],[-3.8,1.116],[-4.4,1.235],[-4.7,1.254],[-5.6,1.274],[-6.5,1.274],[-6,1.353],[-6.6,1.393],[-6.8,1.254],[-7,1.373],[-7.6,1.512],[-8.4,1.67],[-9.5,1.907],[-10.4,2.066],[-10.9,2.137],[-11.1,-0.111],[-20,-0.16],[-30,-0.16],[-40,-0.165],[-50,-0.16]];
const ox096d = [[-1.4,0.344],[-1.6,0.443],[-1.8,0.601],[-2,0.997],[-2.2,0.483],[-2.4,1.037],[-2.6,0.404],[-2.65,1.076],[-2.7,0.483],[-2.9,1.215],[-3.1,0.404],[-4.4,0.364],[-8,0.344],[-11.6,0.324],[-15.3,0.305],[-18.9,0.285],[-22.5,0.285],[-26.2,0.285],[-29.8,0.305],[-32.9,0.305]];
const ox096u = [[-1.45,0.364],[-2.5,0.483],[-4.4,0.324],[-11.6,0.364],[-15.3,0.404],[-18.9,0.423],[-22.5,0.423],[-24.7,0.443],[-26.9,0.562],[-28.4,0.601],[-29.1,0.562],[-29.5,0.72],[-30.5,0.879],[-31.3,1.017],[-31.5,0.879],[-31.6,0.72],[-32.1,0.285],[-32.4,0.522],[-32.6,0.404],[-32.9,0.285]];
const ox114d = [[-2,0.245],[-2.9,0.324],[-4.4,0.285],[-5.8,0.324],[-6.5,0.285],[-8,0.324],[-10.2,0.305],[-12.4,0.285],[-15.3,0.265],[-18.9,0.245],[-26.2,0.245],[-33.5,0.245],[-40.7,0.253],[-43.8,0.265]];
const ox114u = [[-1.45,0.324],[-2.9,0.443],[-4.4,0.344],[-8,0.305],[-11.6,0.324],[-15.3,0.285],[-22.5,0.275],[-29.8,0.285],[-37.1,0.275],[-43.6,0.305],[-43.7,0.344]];
const ox142d = [[-4,0.364],[-3.8,0.483],[-4.4,0.384],[-5.8,0.344],[-8,0.364],[-11.6,0.344],[-14.2,0.305],[-15.3,0.344],[-18.9,0.305],[-22.5,0.285],[-26.2,0.305],[-29.8,0.324],[-33.5,0.324],[-37.1,0.324],[-40,0.324],[-41.6,0.324]];
const ox142u = [[-3.3,0.324],[-3.8,0.443],[-4,0.601],[-4.05,0.324],[-6.2,0.384],[-9.8,0.404],[-11.6,0.443],[-14.2,0.404],[-17.1,0.384],[-20.7,0.364],[-26.2,0.344],[-29.8,0.344],[-33.5,0.364],[-38.9,0.344]];
const ox162d = [[-1.1,0.245],[-1.45,0.324],[-1.6,0.443],[-1.8,0.601],[-2,0.641],[-2.4,0.562],[-2.7,0.463],[-2.9,0.799],[-3.1,0.601],[-3.3,0.918],[-3.6,0.997],[-3.8,0.879],[-4.1,1.076],[-4.5,1.67],[-4.9,1.828],[-5.2,1.907],[-5.5,-0.131],[-6.2,-0.131],[-6.4,1.749],[-6.55,1.512],[-6.7,1.156],[-7.1,1.512],[-7.6,1.828],[-8.2,1.868],[-8.4,-0.131],[-16.2,-0.131],[-16.25,1.71],[-16.5,1.63],[-17.3,1.71],[-18.2,1.828],[-18.5,1.848],[-18.9,-0.131],[-22.1,-0.131],[-22.2,1.551],[-21.9,0.958],[-21.5,0.72],[-21.6,0.66],[-22,0.799],[-22.6,0.918],[-23.3,0.997],[-24.2,1.076],[-25.8,1.116],[-26.5,1.096],[-27.3,0.958],[-27.35,0.72],[-28,0.72],[-29.1,0.839],[-30.2,0.839],[-31.1,0.72],[-32,0.681],[-33.1,0.76],[-35.3,0.76],[-38.9,0.76],[-40.4,0.74],[-42.2,0.641],[-43.3,0.562],[-44.4,0.483],[-45.1,0.443],[-46.2,0.463],[-46.7,0.443]];
const ox162u = [[-1,0.245],[-1.1,0.404],[-1.8,0.285],[-2.5,0.324],[-3.3,0.483],[-4.4,0.404],[-6.2,0.483],[-8,0.463],[-11.6,0.483],[-13.8,0.483],[-14.5,0.443],[-16,0.364],[-17.5,0.324],[-18.9,0.305],[-22.5,0.285],[-26.2,0.295],[-26.6,0.305],[-26.5,0.423],[-27.3,0.404],[-31.6,0.404],[-37.1,0.404],[-40.7,0.412],[-42.2,0.483],[-44.4,0.483],[-45.1,0.443],[-46.7,0.443]];
const ox171d = [[0,0.455],[-14.2,0.455],[-14.5,0.443],[-14.9,0.404],[-15.3,0.443],[-18.9,0.455],[-25.3,0.443]];
const ox171u = [[-1.45,0.443],[-4.4,0.503],[-8,0.483],[-11.6,0.503],[-14.2,0.483],[-14.5,0.443],[-18.9,0.463],[-22.5,0.443],[-24,0.443]];

// assemble per panel in seriesNames order (null = not measured)
const salinitySeries = [null,null,sal096d,sal096u,sal114d,sal114u,sal142d,sal142u,sal162d,sal162u,sal171d,sal171u];
const temperatureSeries = [tmp057d,tmp057u,tmp096d,tmp096u,tmp114d,tmp114u,tmp142d,tmp142u,tmp162d,tmp162u,tmp171d,tmp171u];
const phSeries = [ph057d,ph057u,ph096d,ph096u,ph114d,ph114u,ph142d,ph142u,ph162d,ph162u,ph171d,ph171u];
const nitrateSeries = [no3057d,no3057u,no3096d,no3096u,no3114d,no3114u,no3142d,no3142u,no3162d,no3162u,null,null];
const oxygenSeries = [ox057d,ox057u,ox096d,ox096u,ox114d,ox114u,ox142d,ox142u,ox162d,ox162u,ox171d,ox171u];

// ---------------- layout ----------------
const panelDefs = [
  {domain:[20,34], ticks:salTicks, series:salinitySeries},
  {domain:[-1.85,-1.65], ticks:tmpTicks, series:temperatureSeries},
  {domain:[7.9,8.2], ticks:phTicks, series:phSeries},
  {domain:[0,15], ticks:no3Ticks, series:nitrateSeries},
  {domain:[-1,3], ticks:oxTicks, series:oxygenSeries}
];
const panelLeft = [117, 565, 1012, 1461, 1908];
const plotTop = 66, pw = 336, plotH = 1125;
const pageW = 2203;
const bg = "#DFDFDF", gridCol = "#BEBEBE", ink = "#262626";

const svg = d3.select("#chart");

// truncated title remnant at the very top (cut off by the page edge, as in the source)
svg.append("text").attr("x", 778).attr("y", -2.5).attr("font-size", 24).attr("fill", ink).text("_");

const yScale = d3.scaleLinear().domain([-50, 0]).range([plotH, 0]);

panelDefs.forEach((p, i) => {
  const x = d3.scaleLinear().domain(p.domain).range([0, pw]);
  const g = svg.append("g").attr("transform", `translate(${panelLeft[i]},${plotTop})`);
  g.append("rect").attr("width", pw).attr("height", plotH).attr("fill", bg);

  // grid
  const gx = g.append("g").attr("transform", `translate(0,${plotH})`)
    .call(d3.axisBottom(x).tickValues(p.ticks).tickSize(-plotH).tickFormat(""));
  const gy = g.append("g").call(d3.axisLeft(yScale).tickValues(depthTicks).tickSize(-pw).tickFormat(""));
  [gx, gy].forEach(a => { a.select(".domain").remove(); a.selectAll("line").attr("stroke", gridCol).attr("stroke-width", 2); });

  // clip
  const cid = "clip" + i;
  g.append("clipPath").attr("id", cid).append("rect").attr("width", pw).attr("height", plotH);
  const lines = g.append("g").attr("clip-path", `url(#${cid})`);
  const line = d3.line().x(d => x(d[1])).y(d => yScale(d[0]));
  p.series.forEach((s, k) => {
    if (!s) return;
    lines.append("path").datum(s).attr("d", line)
      .attr("fill", "none").attr("stroke", seriesColors[k]).attr("stroke-width", 2.1)
      .attr("stroke-linejoin", "round")
      .attr("stroke-dasharray", seriesDotted[k] ? "2.6,2.4" : null);
  });

  // axes with inward ticks; labels only for ticks inside the page
  const fmt = d => (panelLeft[i] + x(d) < pageW - 10) ? String(d) : "";
  const ab = g.append("g").attr("transform", `translate(0,${plotH})`)
    .call(d3.axisBottom(x).tickValues(p.ticks).tickSizeInner(-12).tickSizeOuter(0).tickPadding(16).tickFormat(fmt));
  const at = g.append("g").call(d3.axisTop(x).tickValues(p.ticks).tickSizeInner(-12).tickSizeOuter(0).tickFormat(""));
  const al = g.append("g").call(d3.axisLeft(yScale).tickValues(depthTicks).tickSizeInner(-12).tickSizeOuter(0).tickPadding(9).tickFormat(d => String(d)));
  const ar = g.append("g").attr("transform", `translate(${pw},0)`)
    .call(d3.axisRight(yScale).tickValues(depthTicks).tickSizeInner(-12).tickSizeOuter(0).tickFormat(""));
  [ab, at, al, ar].forEach(a => {
    a.select(".domain").remove();
    a.selectAll("line").attr("stroke", ink).attr("stroke-width", 3);
    a.selectAll("text").attr("fill", ink).attr("font-size", 19).attr("font-family", "Liberation Sans, Arial, sans-serif");
  });
  ab.selectAll("text").filter(function() { return this.textContent === ""; }).remove();

  g.append("rect").attr("width", pw).attr("height", plotH).attr("fill", "none").attr("stroke", ink).attr("stroke-width", 2.5);

  // axis titles
  g.append("text").attr("x", pw / 2).attr("y", plotH + 56).attr("text-anchor", "middle")
    .attr("font-size", 21).attr("fill", ink).text(axisLabels[i]);
  g.append("text").attr("transform", `translate(-52,${plotH / 2}) rotate(-90)`).attr("text-anchor", "middle")
    .attr("dy", "0.35em").attr("font-size", 21).attr("fill", ink).text("Depth [m]");

  // legend inside nitrate panel
  if (i === 3) {
    const lg = g.append("g").attr("transform", "translate(12,781)");
    lg.append("rect").attr("width", 152).attr("height", 295).attr("fill", bg).attr("stroke", ink).attr("stroke-width", 2);
    seriesNames.forEach((n, k) => {
      const yy = 16 + k * 23.9;
      lg.append("line").attr("x1", 12).attr("x2", 69).attr("y1", yy).attr("y2", yy)
        .attr("stroke", seriesColors[k]).attr("stroke-width", 2)
        .attr("stroke-dasharray", seriesDotted[k] ? "2.6,2.4" : null);
      lg.append("text").attr("x", 76).attr("y", yy).attr("dy", "0.35em").attr("font-size", 17)
        .attr("fill", "#111").text(n);
    });
  }
});
</script>
</body></html>
